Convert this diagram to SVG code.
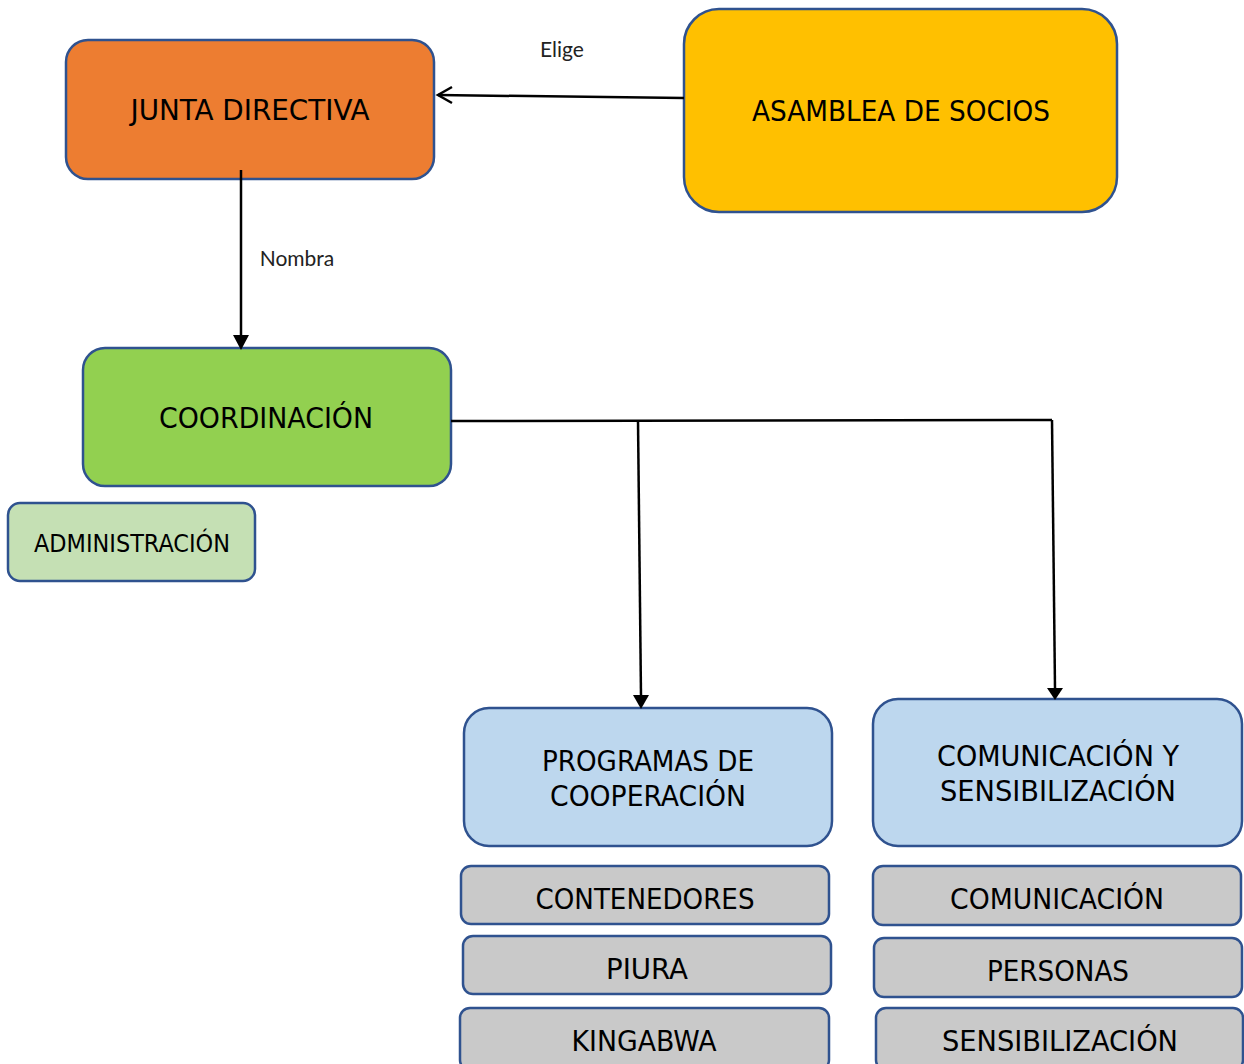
<svg xmlns="http://www.w3.org/2000/svg" width="1244" height="1064" viewBox="0 0 1244 1064">
<defs>
<style>
.b{stroke:#2F528F;stroke-width:2.5}
.t{font-family:"DejaVu Sans Condensed","Liberation Sans",sans-serif;font-size:28px;fill:#000;text-anchor:middle}
.s{font-family:"DejaVu Sans Condensed","Liberation Sans",sans-serif;font-size:25px;fill:#000;text-anchor:middle}
.l{font-family:Lato,"Noto Sans",sans-serif;font-size:21px;font-weight:400;fill:#222;text-anchor:middle}
.c{stroke:#000;stroke-width:2.5;fill:none}
</style>
</defs>
<rect width="1244" height="1064" fill="#fff"/>
<g id="junta"><rect class="b" x="66" y="40" width="368" height="139" rx="22" fill="#ED7D31"/><text class="t" x="250" y="120" textLength="239" lengthAdjust="spacingAndGlyphs">JUNTA DIRECTIVA</text></g>
<g id="asamblea"><rect class="b" x="684" y="9" width="433" height="203" rx="35" fill="#FFC000"/><text class="t" x="901" y="121" textLength="298" lengthAdjust="spacingAndGlyphs">ASAMBLEA DE SOCIOS</text></g>
<g id="coordinacion"><rect class="b" x="83" y="348" width="368" height="138" rx="22" fill="#92D050"/><text class="t" x="266" y="428" textLength="214" lengthAdjust="spacingAndGlyphs">COORDINACIÓN</text></g>
<g id="administracion"><rect class="b" x="8" y="503" width="247" height="78" rx="12" fill="#C5E0B4"/><text class="s" x="132" y="552" textLength="196" lengthAdjust="spacingAndGlyphs">ADMINISTRACIÓN</text></g>
<g id="programas"><rect class="b" x="464" y="708" width="368" height="138" rx="25" fill="#BDD7EE"/><text class="t" x="648" y="771" textLength="212" lengthAdjust="spacingAndGlyphs">PROGRAMAS DE</text><text class="t" x="648" y="806" textLength="196" lengthAdjust="spacingAndGlyphs">COOPERACIÓN</text></g>
<g id="comunicacion-y"><rect class="b" x="873" y="699" width="369" height="147" rx="25" fill="#BDD7EE"/><text class="t" x="1058" y="766" textLength="242" lengthAdjust="spacingAndGlyphs">COMUNICACIÓN Y</text><text class="t" x="1058" y="801" textLength="236" lengthAdjust="spacingAndGlyphs">SENSIBILIZACIÓN</text></g>
<g id="contenedores"><rect class="b" x="461" y="866" width="368" height="58" rx="10" fill="#C9C9C9"/><text class="t" x="645" y="909" textLength="219" lengthAdjust="spacingAndGlyphs">CONTENEDORES</text></g>
<g id="piura"><rect class="b" x="463" y="936" width="368" height="58" rx="10" fill="#C9C9C9"/><text class="t" x="647" y="979" textLength="82" lengthAdjust="spacingAndGlyphs">PIURA</text></g>
<g id="kingabwa"><rect class="b" x="460" y="1008" width="369" height="62" rx="10" fill="#C9C9C9"/><text class="t" x="644" y="1051" textLength="145" lengthAdjust="spacingAndGlyphs">KINGABWA</text></g>
<g id="comunicacion"><rect class="b" x="873" y="866" width="368" height="59" rx="10" fill="#C9C9C9"/><text class="t" x="1057" y="909" textLength="214" lengthAdjust="spacingAndGlyphs">COMUNICACIÓN</text></g>
<g id="personas"><rect class="b" x="874" y="938" width="368" height="59" rx="10" fill="#C9C9C9"/><text class="t" x="1058" y="981" textLength="142" lengthAdjust="spacingAndGlyphs">PERSONAS</text></g>
<g id="sensibilizacion"><rect class="b" x="876" y="1008" width="367" height="62" rx="10" fill="#C9C9C9"/><text class="t" x="1060" y="1051" textLength="236" lengthAdjust="spacingAndGlyphs">SENSIBILIZACIÓN</text></g>
<g id="connectors">
<path class="c" d="M684,98L438,95"/>
<path d="M452,87L438,95L452,103" fill="none" stroke="#000" stroke-width="2.5"/>
<path class="c" d="M241,170L241,336"/>
<path d="M233,335L249,335L241,350z" fill="#000"/>
<path class="c" d="M451,421L1052,420"/>
<path class="c" d="M638,421L641,696"/>
<path d="M633,695L649,695L641,709z" fill="#000"/>
<path class="c" d="M1052,420L1055,688"/>
<path d="M1047,688L1063,688L1055,700z" fill="#000"/>
<text class="l" x="562" y="57">Elige</text>
<text class="l" x="297" y="266">Nombra</text>
</g>
</svg>
